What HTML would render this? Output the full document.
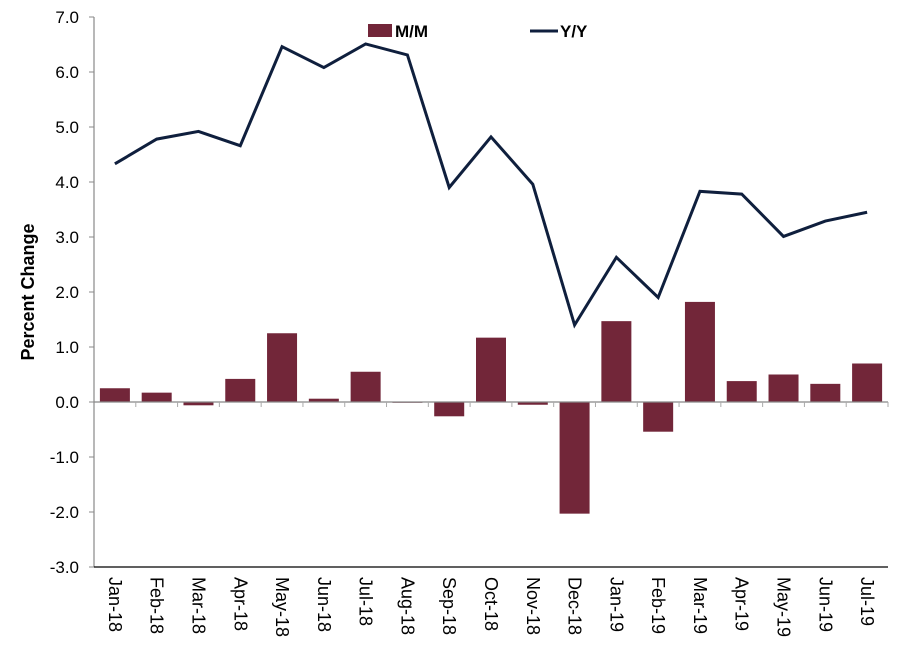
<!DOCTYPE html>
<html><head><meta charset="utf-8"><style>
body{margin:0;background:#fff;font-family:"Liberation Sans",Arial,sans-serif}
</style></head><body>
<svg width="900" height="653" xmlns="http://www.w3.org/2000/svg">
<g id="g"></g>
</svg>
<script>
const categories=["Jan-18","Feb-18","Mar-18","Apr-18","May-18","Jun-18","Jul-18","Aug-18","Sep-18","Oct-18","Nov-18","Dec-18","Jan-19","Feb-19","Mar-19","Apr-19","May-19","Jun-19","Jul-19"];
const mm=[0.25,0.17,-0.06,0.42,1.25,0.06,0.55,-0.01,-0.26,1.17,-0.05,-2.03,1.47,-0.54,1.82,0.38,0.50,0.33,0.70];
const yy=[4.33,4.78,4.92,4.66,6.46,6.08,6.51,6.31,3.90,4.82,3.96,1.40,2.63,1.90,3.83,3.78,3.01,3.29,3.45];
const yTicks=[7,6,5,4,3,2,1,0,-1,-2,-3];
const L=94,R=888,T=17,B=567,ymin=-3,ymax=7;
const NS="http://www.w3.org/2000/svg";
const g=document.getElementById('g');
const bw=(R-L)/categories.length;
function X(i){return L+bw*(i+0.5);}
function Y(v){return T+(ymax-v)/(ymax-ymin)*(B-T);}
function mk(t,a){const e=document.createElementNS(NS,t);for(const k in a)e.setAttribute(k,a[k]);g.appendChild(e);return e;}
yTicks.forEach(v=>{
 const tk=mk('line',{x1:L-5,x2:L,y1:Y(v),y2:Y(v),stroke:'#888'});
 
 
 const t=mk('text',{x:79,y:Y(v)+6,'text-anchor':'end','font-size':17,fill:'#000'});
 t.textContent=v.toFixed(1);
 
 
});
mm.forEach((v,i)=>{
 const y0=Y(0),y1=Y(v);
 const r=mk('rect',{x:X(i)-15,y:Math.min(y0,y1),width:30,height:Math.max(Math.abs(y1-y0),0.8),fill:'#722639'});
 
 
});
const zl=mk('line',{x1:L,x2:R,y1:Y(0),y2:Y(0),stroke:'#888','stroke-width':1.2});


for(let i=1;i<=categories.length;i++){
 const tk=mk('line',{x1:L+bw*i,x2:L+bw*i,y1:Y(0),y2:Y(0)+5,stroke:'#aaa'});
 
 
}
const ya=mk('line',{x1:L,x2:L,y1:T,y2:B,stroke:'#888','stroke-width':1.2});


const ba=mk('line',{x1:L,x2:R,y1:B,y2:B,stroke:'#000','stroke-width':1.2});


const pl=mk('polyline',{points:yy.map((v,i)=>X(i)+','+Y(v)).join(' '),fill:'none',stroke:'#0f1f3d','stroke-width':3,'stroke-linejoin':'miter'});


categories.forEach((c,i)=>{
 const t=mk('text',{x:X(i)-6,y:577,'font-size':18,fill:'#000',transform:`rotate(90 ${X(i)-6} 577)`});
 t.textContent=c;
 
 
});
const yt=mk('text',{x:34,y:292,'font-size':18,'font-weight':'bold','text-anchor':'middle',transform:'rotate(-90 34 292)'});
yt.textContent='Percent Change';


const lb=mk('rect',{x:368,y:24,width:24,height:13,fill:'#722639'});


const lt=mk('text',{x:395,y:37,'font-size':17,'font-weight':'bold'});
lt.textContent='M/M';


const ll=mk('line',{x1:530,x2:558,y1:31,y2:31,stroke:'#0f1f3d','stroke-width':3});


const lt2=mk('text',{x:560,y:37,'font-size':17,'font-weight':'bold'});
lt2.textContent='Y/Y';


</script>
</body></html>
